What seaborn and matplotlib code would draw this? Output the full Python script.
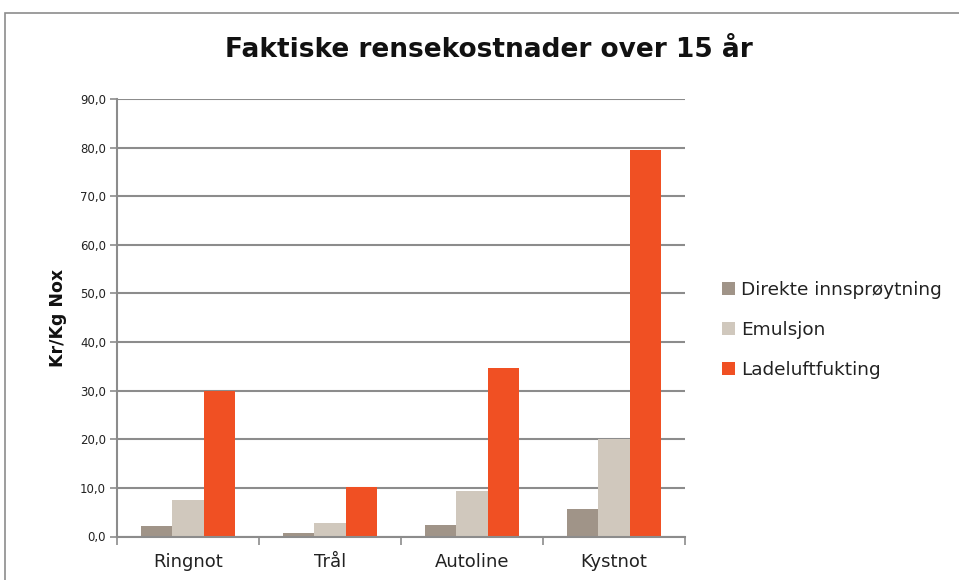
import matplotlib
matplotlib.use("Agg")
import matplotlib.pyplot as plt
from matplotlib.patches import Rectangle
from matplotlib.ticker import FixedLocator, MultipleLocator, FuncFormatter
import seaborn as sns
import pandas as pd

categories = ["Ringnot", "Trål", "Autoline", "Kystnot"]
series_names = ["Direkte innsprøytning", "Emulsjon", "Ladeluftfukting"]
direkte = [2.2, 0.7, 2.4, 5.6]
emulsjon = [7.5, 2.8, 9.3, 20.0]
ladeluft = [29.9, 10.2, 34.6, 79.5]
colors = ["#A09488", "#D0C8BD", "#F05023"]

rows = []
for name, vals in zip(series_names, [direkte, emulsjon, ladeluft]):
    for c, v in zip(categories, vals):
        rows.append({"Kategori": c, "Serie": name, "Verdi": v})
df = pd.DataFrame(rows)

sns.set_theme(style="white")
plt.rcParams['font.family'] = ['DejaVu Sans']

fig = plt.figure(figsize=(9.59, 5.8), dpi=100)
ax = fig.add_axes([117/959, 1 - 536.5/580, (685-117)/959, (536.5-99)/580])

sns.barplot(data=df, x="Kategori", y="Verdi", hue="Serie", order=categories,
            hue_order=series_names, palette=colors, width=0.66,
            saturation=1, ax=ax, legend=True, errorbar=None, linewidth=0)

ax.set_ylim(0, 90)
ax.set_xlim(-0.5, 3.5)
ax.yaxis.set_major_locator(MultipleLocator(10))
ax.yaxis.set_major_formatter(FuncFormatter(lambda v, p: f"{v:.1f}".replace(".", ",")))
ax.grid(axis="y", color="#8C8C8C", linewidth=1.5)
ax.set_axisbelow(True)
for s in ["top", "right"]:
    ax.spines[s].set_visible(False)
for s in ["left", "bottom"]:
    ax.spines[s].set_color("#8C8C8C")
    ax.spines[s].set_linewidth(1.5)

ax.tick_params(axis="y", which="major", length=5, width=1.2, color="#8C8C8C",
               labelsize=8.5, labelcolor="#222222", pad=3, left=True)
ax.tick_params(axis="x", which="major", length=0, labelsize=13, labelcolor="#222222", pad=12)
ax.xaxis.set_minor_locator(FixedLocator([-0.5, 0.5, 1.5, 2.5, 3.5]))
ax.tick_params(axis="x", which="minor", length=6, width=1.2, color="#8C8C8C", bottom=True)

ax.set_xlabel("")
ax.set_ylabel("Kr/Kg Nox", fontsize=12.5, fontweight="bold", color="#111111", labelpad=9)

handles, labels = ax.get_legend_handles_labels()
ax.legend_.remove()
fig.legend(handles, labels, loc="center left", bbox_to_anchor=(705/959, 1 - 330/580),
           frameon=False, fontsize=13.3, handlelength=0.7, handleheight=0.7,
           handletextpad=0.35, labelspacing=1.2, labelcolor="#222222")

fig.suptitle("Faktiske rensekostnader over 15 år", x=489/959, y=1 - 50/580,
             va="center", fontsize=19, fontweight="bold", color="#111111")

fig.patches.append(Rectangle((5/959, -0.1), 1.2, 1.1 - 13/580, transform=fig.transFigure,
                             fill=False, edgecolor="#8C8C8C", linewidth=1.2))

fig.savefig("out.png", dpi=100)
